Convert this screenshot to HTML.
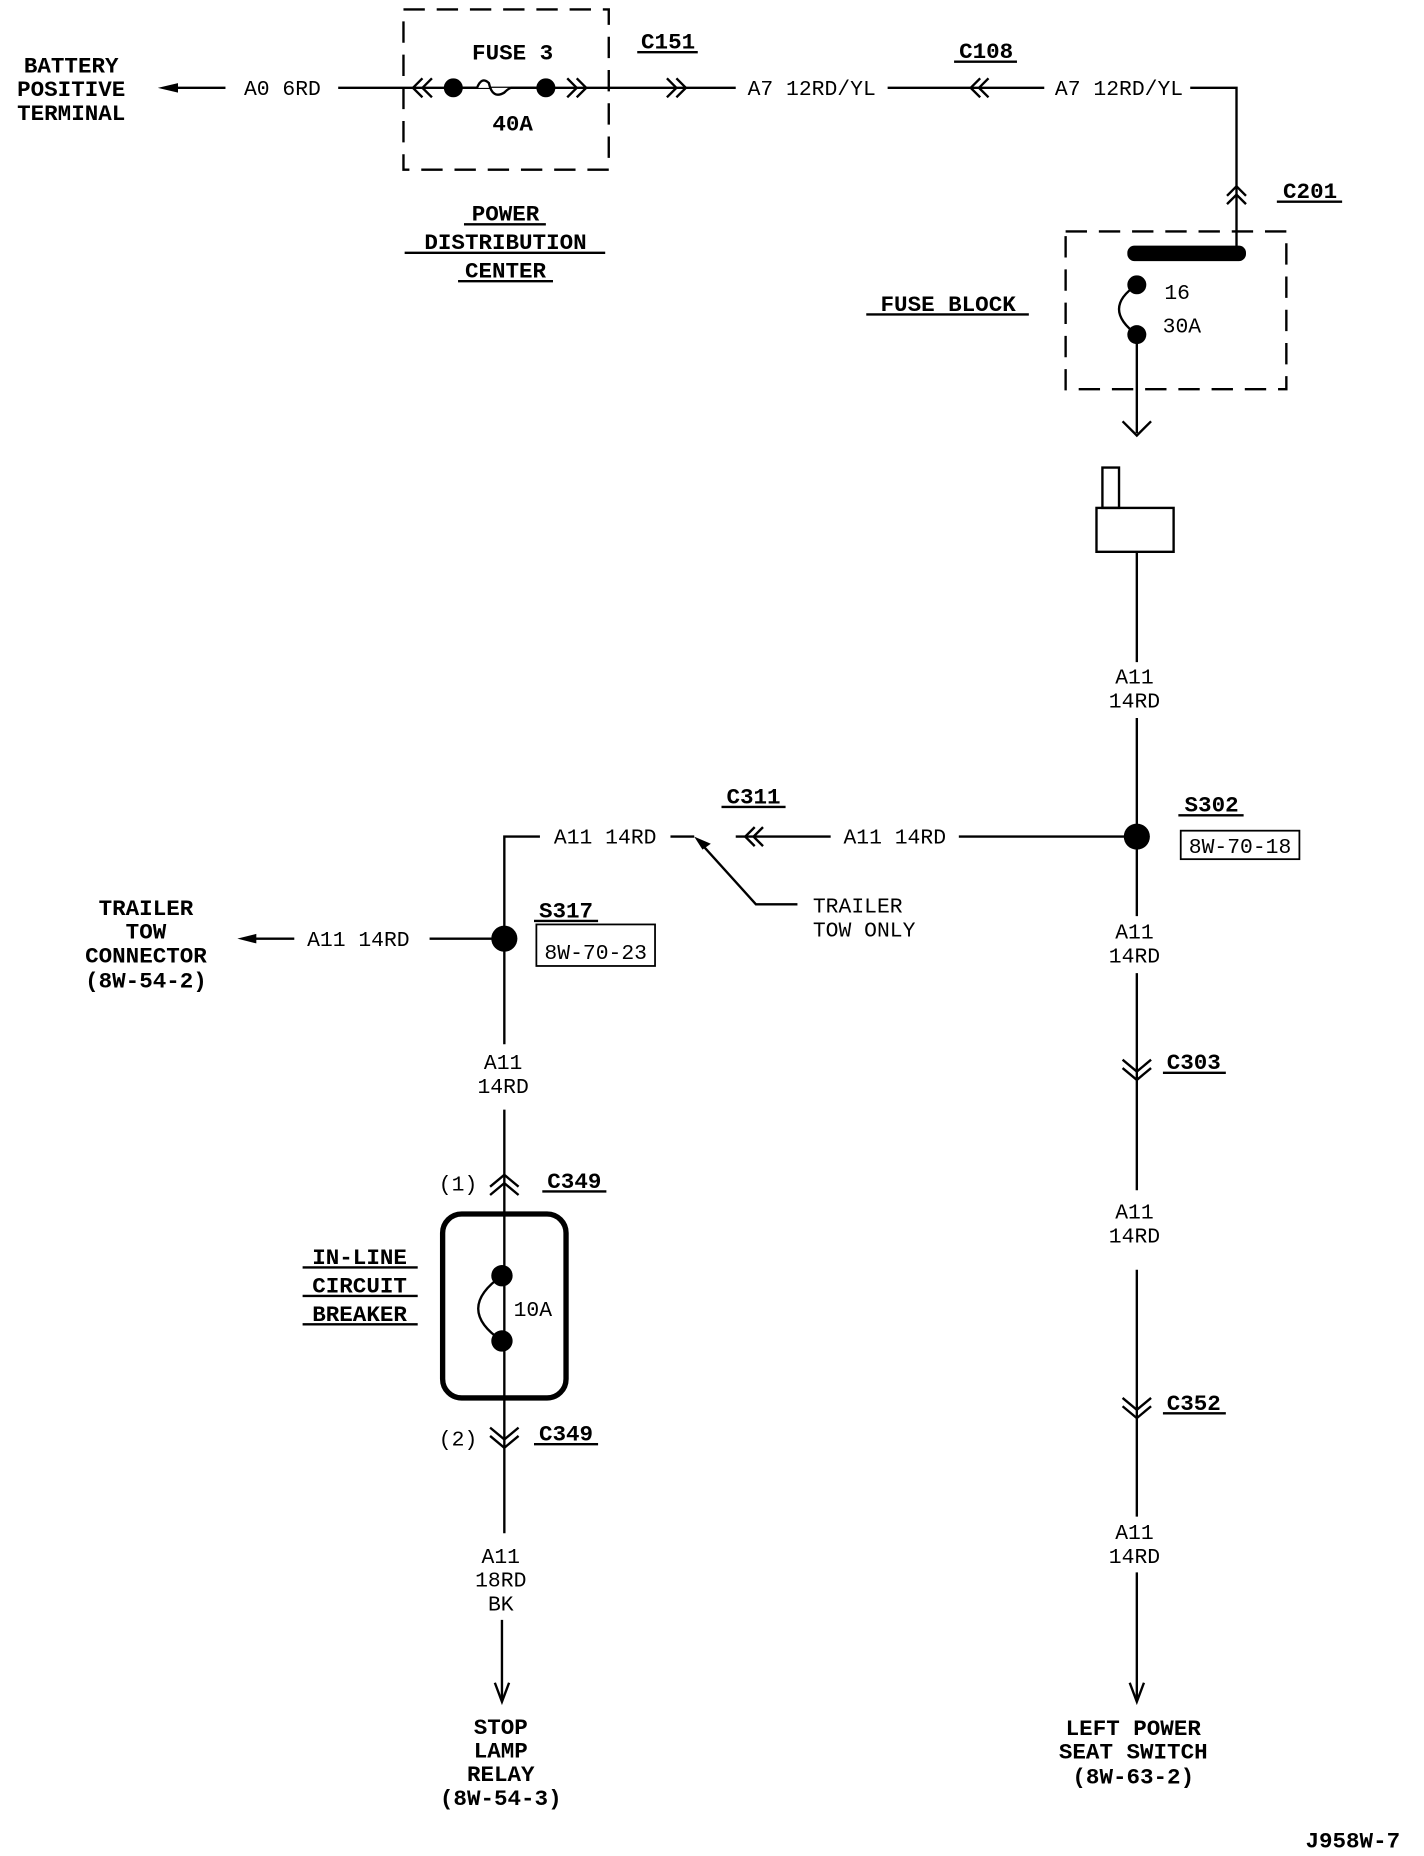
<!DOCTYPE html>
<html><head><meta charset="utf-8"><style>
html,body{margin:0;padding:0;background:#fff;}
svg{display:block;}
.b{font-family:"Liberation Mono",monospace;font-weight:bold;font-size:19px;fill:#000;}
.r{font-family:"Liberation Mono",monospace;font-size:18px;fill:#000;}
</style></head><body>
<svg width="1424" height="1856" viewBox="0 0 1200 1564" preserveAspectRatio="none" xmlns="http://www.w3.org/2000/svg">
<g stroke="#000" stroke-width="2" fill="none">
<line x1="150" y1="74" x2="190" y2="74"/>
<line x1="285" y1="74" x2="620" y2="74"/>
<rect x="340" y="8" width="173" height="135" stroke-dasharray="18,10"/>
<path d="M356,66 l-8,8 8,8 M364,66 l-8,8 8,8"/>
<path d="M478,66 l8,8 -8,8 M486,66 l8,8 -8,8"/>
<path d="M562,66 l8,8 -8,8 M570,66 l8,8 -8,8"/>
<path d="M382,74 h20 q4,-10 10,-4 q3,14 13,8 q4,-4 6,-4 h29" fill="#fff"/>
<line x1="748" y1="74" x2="880" y2="74"/>
<path d="M826,66 l-8,8 8,8 M833,66 l-8,8 8,8"/>
<polyline points="1003,74 1042,74 1042,213"/>
<path d="M1034,165 l8,-8 8,8 M1034,172 l8,-8 8,8"/>
<rect x="898" y="195" width="186" height="133" stroke-dasharray="18,10"/>
<path d="M958,240 q-30,20 0,42"/>
<line x1="958" y1="282" x2="958" y2="365"/>
<path d="M946,355 l12,12 12,-12"/>
<rect x="929" y="394" width="14" height="34"/>
<rect x="924" y="428" width="65" height="37"/>
<line x1="958" y1="465" x2="958" y2="558"/>
<line x1="958" y1="605" x2="958" y2="772"/>
<rect x="995" y="700" width="100" height="24" stroke-width="1.5"/>
<line x1="958" y1="705" x2="808" y2="705"/>
<line x1="700" y1="705" x2="620" y2="705"/>
<path d="M636,697 l-8,8 8,8 M643,697 l-8,8 8,8"/>
<line x1="565" y1="705" x2="585" y2="705"/>
<polyline points="455,705 425,705 425,880"/>
<polyline points="590,710 637,762 672,762"/>
<line x1="425" y1="791" x2="362" y2="791"/>
<line x1="248" y1="791" x2="215" y2="791"/>
<rect x="452" y="779" width="100" height="35" stroke-width="1.5"/>
<line x1="425" y1="935" x2="425" y2="1292"/>
<path d="M413,1000 l12,-10 12,10 M413,1007 l12,-10 12,10"/>
<rect x="373" y="1023" width="104" height="155" rx="16" stroke-width="4.5"/>
<path d="M423,1075 q-40,28 0,55"/>
<path d="M413,1203 l12,10 12,-10 M413,1210 l12,10 12,-10"/>
<line x1="423" y1="1365" x2="423" y2="1432"/>
<path d="M417,1418 l6,16 6,-16"/>
<line x1="958" y1="820" x2="958" y2="1003"/>
<path d="M946,893 l12,10 12,-10 M946,900 l12,10 12,-10"/>
<line x1="958" y1="1070" x2="958" y2="1278"/>
<path d="M946,1178 l12,10 12,-10 M946,1185 l12,10 12,-10"/>
<line x1="958" y1="1325" x2="958" y2="1432"/>
<path d="M952,1418 l6,16 6,-16"/>
<g stroke-width="2">
<line x1="537" y1="44" x2="588" y2="44"/>
<line x1="804" y1="52" x2="857" y2="52"/>
<line x1="1076" y1="170" x2="1131" y2="170"/>
<line x1="391" y1="189" x2="460" y2="189"/>
<line x1="341" y1="213" x2="510" y2="213"/>
<line x1="386" y1="237" x2="466" y2="237"/>
<line x1="730" y1="265" x2="867" y2="265"/>
<line x1="608" y1="680" x2="662" y2="680"/>
<line x1="993" y1="687" x2="1048" y2="687"/>
<line x1="450" y1="776" x2="504" y2="776"/>
<line x1="980" y1="904" x2="1033" y2="904"/>
<line x1="980" y1="1191" x2="1033" y2="1191"/>
<line x1="457" y1="1004" x2="511" y2="1004"/>
<line x1="450" y1="1217" x2="504" y2="1217"/>
<line x1="255" y1="1068" x2="352" y2="1068"/>
<line x1="255" y1="1092" x2="352" y2="1092"/>
<line x1="255" y1="1116" x2="352" y2="1116"/>
</g>
</g>
<g fill="#000">
<path d="M133,74 l17,-4 v8 z"/>
<path d="M200,791 l16,-4 v8 z"/>
<circle cx="382" cy="74" r="8"/><circle cx="460" cy="74" r="8"/>
<rect x="950" y="207" width="100" height="13" rx="6"/>
<circle cx="958" cy="240" r="8"/><circle cx="958" cy="282" r="8"/>
<circle cx="958" cy="705" r="11"/><circle cx="425" cy="791" r="11"/>
<circle cx="423" cy="1075" r="9"/><circle cx="423" cy="1130" r="9"/>
<path d="M585,705 l14,6 -7,5 z"/>
</g>
<g class="b" text-anchor="middle">
<text x="60" y="61">BATTERY</text><text x="60" y="81">POSITIVE</text><text x="60" y="101">TERMINAL</text>
<text x="432" y="50">FUSE 3</text><text x="432" y="110">40A</text>
<text x="563" y="41">C151</text><text x="831" y="49">C108</text><text x="1104" y="167">C201</text>
<text x="426" y="186">POWER</text><text x="426" y="210">DISTRIBUTION</text><text x="426" y="234">CENTER</text>
<text x="799" y="262">FUSE BLOCK</text>
<text x="635" y="677">C311</text><text x="1021" y="684">S302</text><text x="477" y="773">S317</text>
<text x="123" y="771">TRAILER</text><text x="123" y="791">TOW</text><text x="123" y="811">CONNECTOR</text><text x="123" y="832">(8W-54-2)</text>
<text x="484" y="1001">C349</text><text x="477" y="1214">C349</text>
<text x="1006" y="901">C303</text><text x="1006" y="1188">C352</text>
<text x="303" y="1065">IN-LINE</text><text x="303" y="1089">CIRCUIT</text><text x="303" y="1113">BREAKER</text>
<text x="422" y="1461">STOP</text><text x="422" y="1481">LAMP</text><text x="422" y="1501">RELAY</text><text x="422" y="1521">(8W-54-3)</text>
<text x="955" y="1462">LEFT POWER</text><text x="955" y="1482">SEAT SWITCH</text><text x="955" y="1503">(8W-63-2)</text>
<text x="1140" y="1557">J958W-7</text>
</g>
<g class="r" text-anchor="middle">
<text x="238" y="80">A0 6RD</text>
<text x="684" y="80">A7 12RD/YL</text><text x="943" y="80">A7 12RD/YL</text>
<text x="992" y="252">16</text><text x="996" y="280">30A</text>
<text x="956" y="576">A11</text><text x="956" y="596">14RD</text>
<text x="754" y="711">A11 14RD</text><text x="510" y="711">A11 14RD</text>
<text x="1045" y="719">8W-70-18</text><text x="502" y="808">8W-70-23</text>
<text x="302" y="797">A11 14RD</text>
<text x="956" y="791">A11</text><text x="956" y="811">14RD</text>
<text x="424" y="901">A11</text><text x="424" y="921">14RD</text>
<text x="386" y="1003">(1)</text><text x="386" y="1218">(2)</text>
<text x="449" y="1109">10A</text>
<text x="422" y="1317">A11</text><text x="422" y="1337">18RD</text><text x="422" y="1357">BK</text>
<text x="956" y="1027">A11</text><text x="956" y="1047">14RD</text>
<text x="956" y="1297">A11</text><text x="956" y="1317">14RD</text>
</g>
<g class="r">
<text x="685" y="769">TRAILER</text><text x="685" y="789">TOW ONLY</text>
</g>
</svg>
</body></html>
